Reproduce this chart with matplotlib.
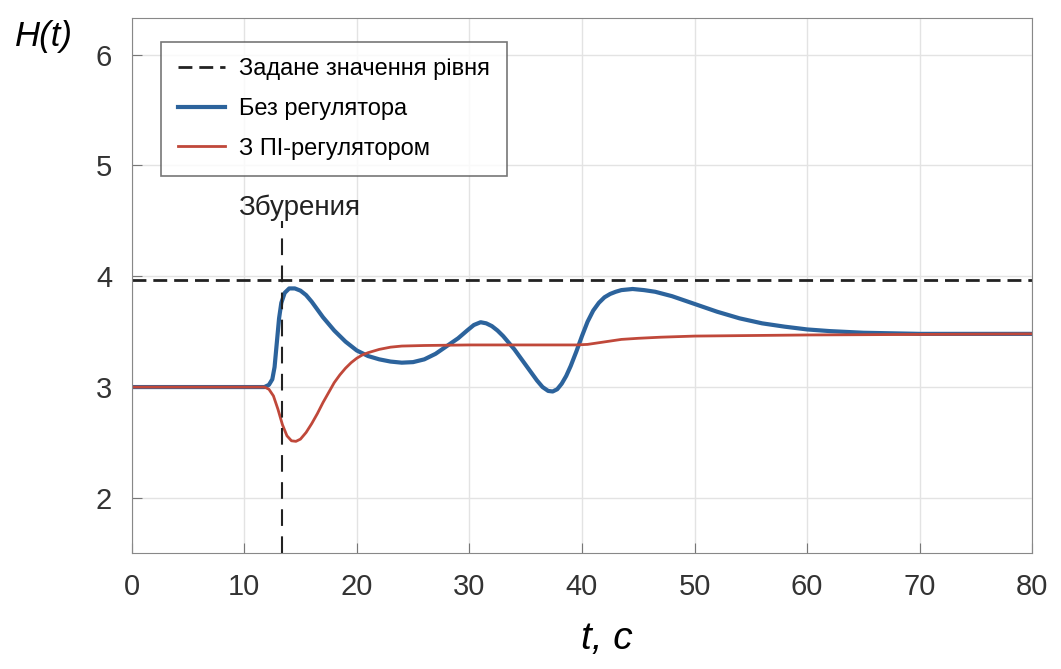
import matplotlib
matplotlib.use("Agg")
import matplotlib.pyplot as plt
from matplotlib import font_manager

# curves
t_blue = [0, 11.8, 12.2, 12.5, 12.7, 12.9, 13.1, 13.3, 13.6, 14.0, 14.5, 15.0, 15.5,
          16.0, 16.5, 17.0, 17.5, 18.0, 18.5, 19.0, 19.5, 20.0, 21.0, 22.0, 23.0,
          24.0, 25.0, 26.0, 27.0, 28.0, 29.0, 29.8, 30.4, 31.0, 31.5, 32.0, 32.5,
          33.0, 33.5, 34.0, 34.5, 35.0, 35.5, 36.0, 36.5, 37.0, 37.4, 37.8, 38.2,
          38.6, 39.0, 39.5, 40.0, 40.5, 41.0, 41.5, 42.0, 42.5, 43.0, 43.5, 44.5,
          45.5, 46.5, 48.0, 50.0, 52.0, 54.0, 56.0, 58.0, 60.0, 62.0, 65.0, 70.0,
          75.0, 80.0]
h_blue = [3.00, 3.00, 3.02, 3.07, 3.18, 3.40, 3.62, 3.76, 3.85, 3.89, 3.89, 3.87, 3.83,
          3.77, 3.70, 3.63, 3.57, 3.51, 3.46, 3.41, 3.37, 3.33, 3.28, 3.25, 3.23,
          3.22, 3.225, 3.25, 3.30, 3.37, 3.44, 3.51, 3.56, 3.585, 3.575, 3.55, 3.51,
          3.46, 3.40, 3.34, 3.27, 3.20, 3.13, 3.06, 3.00, 2.965, 2.96, 2.98, 3.03,
          3.10, 3.19, 3.32, 3.46, 3.59, 3.69, 3.76, 3.81, 3.84, 3.86, 3.875, 3.885,
          3.875, 3.86, 3.82, 3.75, 3.68, 3.62, 3.575, 3.545, 3.52, 3.505, 3.49, 3.48,
          3.48, 3.48]

t_red = [0, 11.8, 12.2, 12.6, 13.0, 13.4, 13.8, 14.2, 14.6, 15.0, 15.5, 16.0, 16.5,
         17.0, 17.5, 18.0, 18.5, 19.0, 19.5, 20.0, 20.5, 21.0, 22.0, 23.0, 24.0,
         26.0, 30.0, 39.5, 40.5, 41.5, 42.5, 43.5, 45.0, 47.0, 50.0, 55.0, 60.0,
         70.0, 80.0]
h_red = [3.00, 3.00, 2.98, 2.92, 2.80, 2.66, 2.56, 2.515, 2.51, 2.53, 2.59, 2.67, 2.76,
         2.86, 2.95, 3.04, 3.11, 3.17, 3.22, 3.26, 3.29, 3.31, 3.34, 3.36, 3.37,
         3.375, 3.38, 3.38, 3.385, 3.40, 3.415, 3.43, 3.44, 3.45, 3.46, 3.465, 3.47,
         3.475, 3.48]

setpoint = 3.97
t_dist = 13.4
labels = ["Задане значення рівня", "Без регулятора", "З ПІ-регулятором"]

names = {f.name for f in font_manager.fontManager.ttflist}
narrow = "Liberation Sans Narrow" if "Liberation Sans Narrow" in names else "Liberation Sans"
plt.rcParams["font.family"] = ["Liberation Sans", "DejaVu Sans"]

fig = plt.figure(figsize=(10.61, 6.69), dpi=100)
ax = fig.add_axes([0.124, 0.173, 0.849, 0.80])

ax.plot([0, 80], [setpoint, setpoint], color="#222222", lw=2, dashes=(5, 2.5), label=labels[0])
ax.plot(t_blue, h_blue, color="#2c639c", lw=3, label=labels[1])
ax.plot(t_red, h_red, color="#c0483a", lw=2, label=labels[2])
ax.plot([t_dist, t_dist], [1.5, 4.5], color="#222222", lw=1.5, dashes=(8, 5))
ax.text(t_dist + 1.5, 4.5, "Збурения", ha="center", va="bottom", fontsize=20, color="#222222")

ax.set_xlim(0, 80)
ax.set_ylim(1.5, 6.33)
ax.set_xticks(range(0, 81, 10))
ax.set_yticks([2, 3, 4, 5, 6])
ax.grid(True, color="#e3e3e3", lw=1)
ax.tick_params(direction="in", length=7, color="#777777", labelsize=21, pad=14)
for lab in ax.get_xticklabels() + ax.get_yticklabels():
    lab.set_family(narrow)
    lab.set_color("#333333")
for s in ax.spines.values():
    s.set_color("#888888")

leg = ax.legend(loc="upper left", bbox_to_anchor=(0.02, 0.978), fontsize=17,
                frameon=True, fancybox=False, edgecolor="#555555", handlelength=2.0,
                borderpad=0.7, labelspacing=0.75, handletextpad=0.6)
leg.get_frame().set_linewidth(1.2)

fig.text(0.041, 0.945, "H(t)", fontsize=25, style="italic", family=narrow, ha="center", va="center")
fig.text(0.572, 0.045, "t, c", fontsize=28, style="italic", family=narrow, ha="center", va="center")

fig.savefig("out.png", dpi=100)
